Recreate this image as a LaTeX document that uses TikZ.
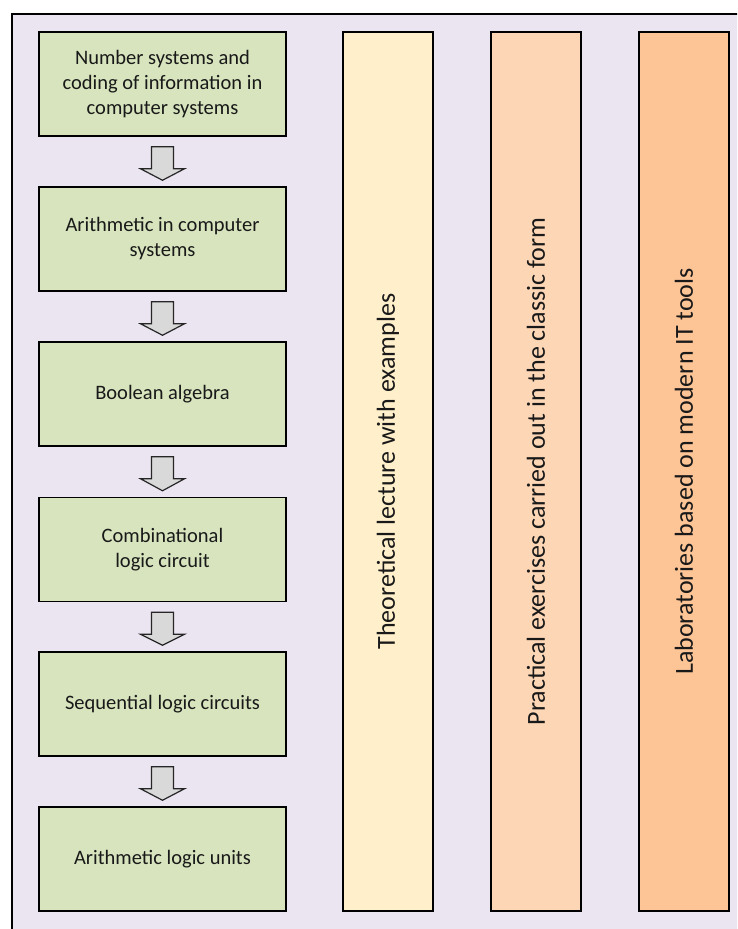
\documentclass[tikz,border=0pt]{standalone}
\usepackage{fontspec}
\setmainfont{Carlito}
\usetikzlibrary{calc}
\definecolor{lav}{HTML}{EBE4F1}
\definecolor{boxgreen}{HTML}{D7E4BD}
\definecolor{colA}{HTML}{FFF0CB}
\definecolor{colB}{HTML}{FDD6B6}
\definecolor{colC}{HTML}{FDC496}
\definecolor{arrowgray}{HTML}{D9D9D9}
\tikzset{
  topicbox/.style={draw=black, line width=1.5pt, fill=boxgreen, minimum width=247pt, minimum height=104pt, inner sep=0pt, align=center, font=\fontsize{20.5}{25}\selectfont, text=black!90},
  colbox/.style={draw=black, line width=1.5pt, rotate=90, minimum width=879pt, minimum height=90pt, inner sep=0pt, font=\fontsize{26}{31}\selectfont, text=black!90},
  blockarrow/.style={draw=black!85, line width=1.2pt, fill=arrowgray, line join=miter}
}
\newcommand{\flowarrow}[2]{%
  \draw[blockarrow] ($(#1.south)+(-11,10)$) -- ($(#1.south)+(11,10)$) -- ($(#1.south)+(11,32)$) -- ($(#1.south)+(22,32)$) -- ($(#2.north)+(0,-6)$) -- ($(#1.south)+(-22,32)$) -- ($(#1.south)+(-11,32)$) -- cycle;}
\begin{document}
\begin{tikzpicture}[x=1pt,y=-1pt]
\useasboundingbox (0,0) rectangle (737,929);
\clip (0,0) rectangle (737,929);
\fill[white] (0,0) rectangle (737,929);
\fill[lav] (12,14) rectangle (740,932);
\draw[line width=2.2pt] (12,935) -- (12,14) -- (740,14);

\node[topicbox] (b1) at (162.5,84) {Number systems and\\coding of information in\\computer systems};
\node[topicbox] (b2) at (162.5,239) {Arithmetic in computer\\systems};
\node[topicbox] (b3) at (162.5,394) {Boolean algebra};
\node[topicbox] (b4) at (162.5,549.5) {Combinational\\logic circuit};
\node[topicbox] (b5) at (162.5,704) {Sequential logic circuits};
\node[topicbox] (b6) at (162.5,859) {Arithmetic logic units};

\flowarrow{b1}{b2}
\flowarrow{b2}{b3}
\flowarrow{b3}{b4}
\flowarrow{b4}{b5}
\flowarrow{b5}{b6}

\node[colbox, fill=colA] (c1) at (388,471.5) {Theoretical lecture with examples};
\node[colbox, fill=colB] (c2) at (536,471.5) {Practical exercises carried out in the classic form};
\node[colbox, fill=colC] (c3) at (684,471.5) {Laboratories based on modern IT tools};
\end{tikzpicture}
\end{document}
